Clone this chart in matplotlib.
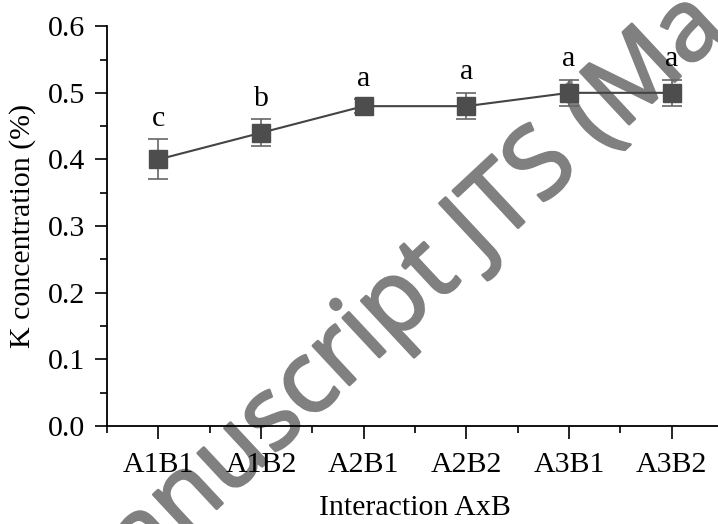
import matplotlib
matplotlib.use('Agg')
import matplotlib.pyplot as plt
import matplotlib.patheffects as pe
from matplotlib.ticker import MultipleLocator, FormatStrFormatter
import numpy as np

groups = ['A1B1', 'A1B2', 'A2B1', 'A2B2', 'A3B1', 'A3B2']
k_conc = [0.40, 0.44, 0.48, 0.48, 0.50, 0.50]
k_err = [0.03, 0.02, 0.01, 0.02, 0.02, 0.02]
letters = ['c', 'b', 'a', 'a', 'a', 'a']

plt.rcParams['font.family'] = 'Liberation Serif'
plt.rcParams['font.size'] = 21.5

fig = plt.figure(figsize=(7.18, 5.24), dpi=100)
ax = fig.add_axes([0.149, 0.187, 0.858, 0.763])
ax.patch.set_visible(False)

# watermark
fig.text(0.536, 0.397, 'Manuscript JTS (Ma', family='Open Sans', fontsize=72,
         color='#808080', rotation=43, rotation_mode='anchor',
         ha='center', va='center', zorder=-1,
         path_effects=[pe.withStroke(linewidth=2, foreground='#808080')])

x = np.arange(len(groups))
ax.errorbar(x, k_conc, yerr=k_err, fmt='none', ecolor='#666666',
            elinewidth=1.2, capsize=7, capthick=1.2, zorder=2)
ax.plot(x, k_conc, '-', color='#444444', lw=1.5, zorder=3)
ax.plot(x, k_conc, 's', color='#4d4d4d', ms=12.5, zorder=4)

for xi, v, e, l in zip(x, k_conc, k_err, letters):
    ax.annotate(l, (xi, v + e), xytext=(0, 15), textcoords='offset points',
                ha='center', va='center')

ax.set_xlim(-0.5, 5.5)
ax.set_ylim(0, 0.6)
ax.set_xticks(x)
ax.set_xticklabels(groups)
ax.set_xticks(np.append(x - 0.5, 5.5), minor=True)
ax.yaxis.set_major_locator(MultipleLocator(0.1))
ax.yaxis.set_minor_locator(MultipleLocator(0.05))
ax.yaxis.set_major_formatter(FormatStrFormatter('%.1f'))

for s in ['top', 'right']:
    ax.spines[s].set_visible(False)
for s in ['left', 'bottom']:
    ax.spines[s].set_linewidth(1.3)
ax.tick_params(which='major', direction='out', length=9, width=1.2, pad=7)
ax.tick_params(axis='x', which='major', pad=10)
ax.tick_params(which='minor', direction='out', length=5, width=1.2)

ax.set_xlabel('Interaction AxB', labelpad=12)
ax.set_ylabel('K concentration (%)', labelpad=8)

fig.savefig('out.png', dpi=100)
